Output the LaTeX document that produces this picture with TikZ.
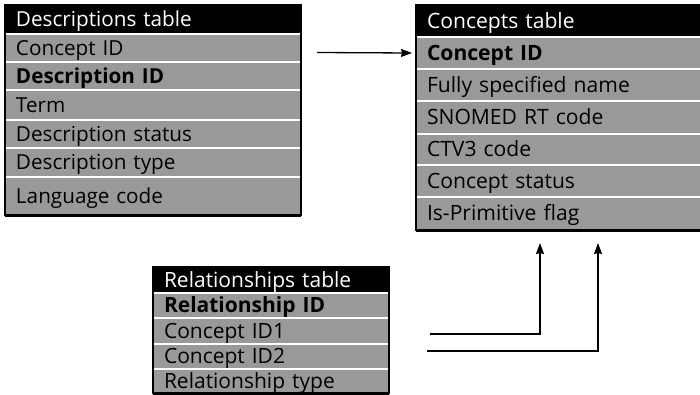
\documentclass[tikz,border=0pt]{standalone}
\usepackage{fontspec}
\setmainfont{Open Sans}
\usetikzlibrary{arrows.meta,calc}

\definecolor{rowgray}{RGB}{153,153,153}

\tikzset{
  tablerow/.style={fill=rowgray, text=black, anchor=north west, inner xsep=11pt,
    inner ysep=0pt, outer sep=0pt, align=left, text height=14pt, text depth=0pt,
    minimum height=#1},
  headrow/.style={tablerow=#1, fill=black, text=white},
  rowsep/.style={draw=white, line width=1.3pt},
  tableframe/.style={draw=black, line width=1.5pt},
  tablefoot/.style={draw=black, line width=3pt},
  link/.style={draw=black, line width=1.3pt, -{Stealth[length=11pt,width=8pt,inset=1pt]}},
  descfont/.style={font=\fontsize{20.7}{24}\selectfont},
  concfont/.style={font=\fontsize{21.1}{24}\selectfont},
  relfont/.style={font=\fontsize{21}{24}\selectfont},
}

\begin{document}
\begin{tikzpicture}[x=1pt,y=-1pt]
\useasboundingbox (0,0) rectangle (700,394);

% Descriptions table
\begin{scope}[descfont, every node/.append style={text width=274pt, inner xsep=10pt}]
  \node[headrow=29pt] (dh) at (5,5)   {Descriptions table};
  \node[tablerow=28pt] (d1) at (5,34)  {Concept ID};
  \node[tablerow=28pt] (d2) at (5,62)  {\bfseries Description ID};
  \node[tablerow=30pt] (d3) at (5,90)  {Term};
  \node[tablerow=28pt] (d4) at (5,120) {Description status};
  \node[tablerow=29pt] (d5) at (5,148) {Description type};
  \node[tablerow=38pt] (d6) at (5,177) {Language code};
\end{scope}
\foreach \r in {d1,d2,d3,d4,d5,d6}
  \draw[rowsep] (\r.north west) -- (\r.north east);
\draw[tableframe] (dh.north west) rectangle (d6.south east);
\draw[tablefoot] (d6.south west) -- (d6.south east);

% Concepts table (runs off the right edge)
\begin{scope}[concfont, every node/.append style={text width=268pt}]
  \node[headrow=32pt] (ch) at (416,5)   {Concepts table};
  \node[tablerow=32pt] (c1) at (416,37)  {\bfseries Concept ID};
  \node[tablerow=32pt] (c2) at (416,69)  {Fully specified name};
  \node[tablerow=33pt] (c3) at (416,101) {SNOMED RT code};
  \node[tablerow=31pt] (c4) at (416,134) {CTV3 code};
  \node[tablerow=32pt] (c5) at (416,165) {Concept status};
  \node[tablerow=33pt] (c6) at (416,197) {Is-Primitive flag};
\end{scope}
\foreach \r in {c1,c2,c3,c4,c5,c6}
  \draw[rowsep] (\r.north west) -- (\r.north east);
\draw[tableframe] (ch.north west) rectangle (c6.south east);
\draw[tablefoot] (c6.south west) -- (c6.south east);

% Relationships table
\begin{scope}[relfont, every node/.append style={text width=214pt, inner xsep=11pt}]
  \node[headrow=26pt] (rh) at (153,267) {Relationships table};
  \node[tablerow=25pt] (r1) at (153,293) {\bfseries Relationship ID};
  \node[tablerow=26pt] (r2) at (153,318) {Concept ID1};
  \node[tablerow=25pt] (r3) at (153,344) {Concept ID2};
  \node[tablerow=24pt] (r4) at (153,369) {Relationship type};
\end{scope}
\foreach \r in {r1,r2,r3,r4}
  \draw[rowsep] (\r.north west) -- (\r.north east);
\draw[tableframe] (rh.north west) rectangle (r4.south east);
\draw[tablefoot] (r4.south west) -- (r4.south east);

% Links between the tables
\coordinate (a0) at (317,52.5);
\draw[link] (a0) -- ([xshift=-4pt]c1.west);

\coordinate (p1) at (430,334);
\coordinate (p2) at (427,351);
\coordinate (t1) at ($(c6.south west)+(124,13)$);
\coordinate (t2) at ($(c6.south west)+(182,13)$);
\draw[link] (p1) -| (t1);
\draw[link] (p2) -| (t2);
\end{tikzpicture}
\end{document}
